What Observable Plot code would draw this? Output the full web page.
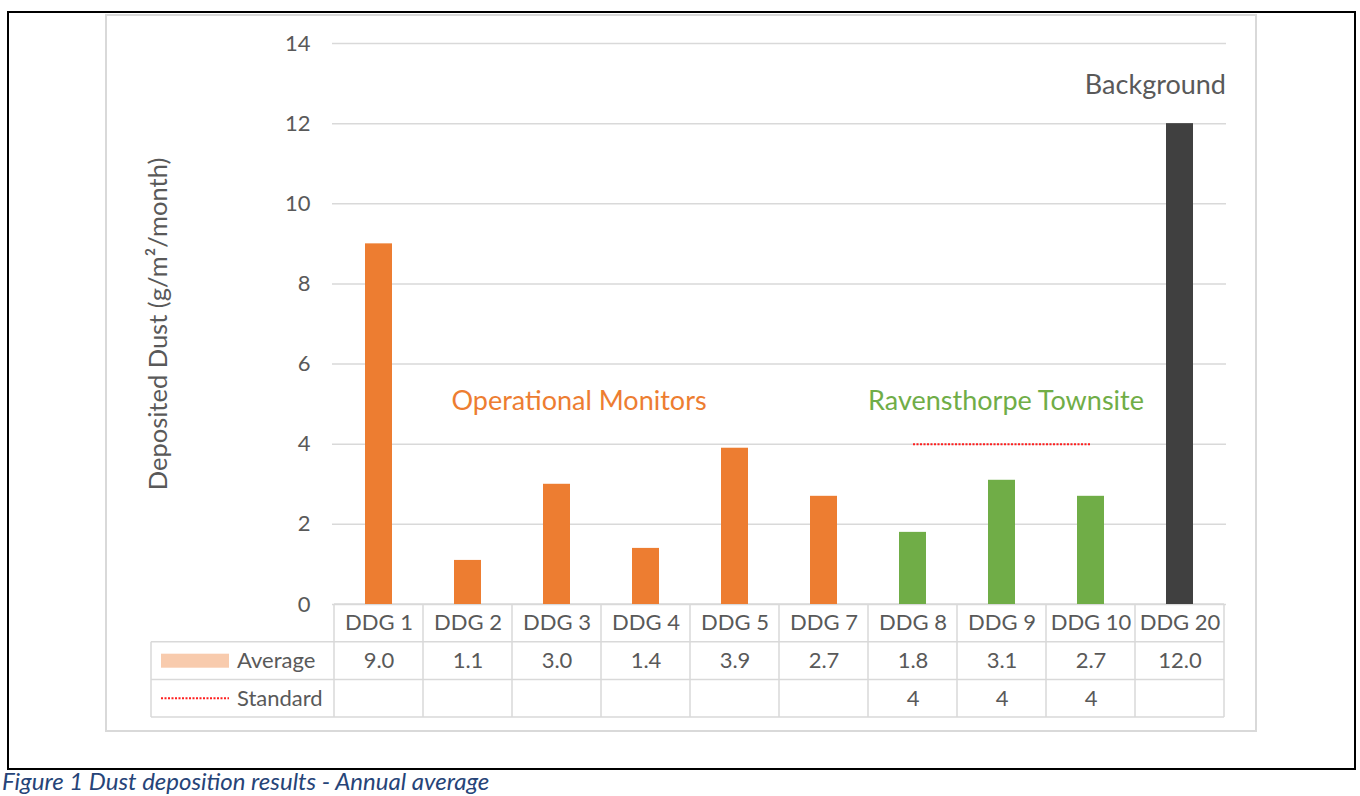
<!DOCTYPE html>
<html><head><meta charset="utf-8">
<script src="https://cdn.jsdelivr.net/npm/d3@7"></script>
<script src="https://cdn.jsdelivr.net/npm/@observablehq/plot@0.6"></script>
<style>
body{margin:0;background:#fff;font-family:Lato,sans-serif;width:1360px;height:796px;overflow:hidden;}
#chart svg{display:block;}
#caption{font-style:italic;color:#264478;font-size:24px;line-height:23px;padding-left:2px;white-space:nowrap;margin-top:-3px;}
</style></head><body>
<div id="chart"></div>
<div id="caption">Figure 1 Dust deposition results - Annual average</div>
<script>
const categories = ["DDG 1","DDG 2","DDG 3","DDG 4","DDG 5","DDG 7","DDG 8","DDG 9","DDG 10","DDG 20"];
const averages = [9.0, 1.1, 3.0, 1.4, 3.9, 2.7, 1.8, 3.1, 2.7, 12.0];
const groups = ["Operational","Operational","Operational","Operational","Operational","Operational","Townsite","Townsite","Townsite","Background"];
const standardSites = ["DDG 8","DDG 9","DDG 10"];
const standardValues = [4, 4, 4];
const yTicks = [0, 2, 4, 6, 8, 10, 12, 14];
const groupColors = {Operational: "#ED7D31", Townsite: "#70AD47", Background: "#404040"};

const data = categories.map((c, i) => ({site: c, avg: averages[i], group: groups[i]}));
const stdData = standardSites.map((s, i) => ({site: s, std: standardValues[i]}));

const textGray = "#595959";
const F = 22;

const plot = Plot.plot({
  width: 1360, height: 772,
  marginLeft: 332, marginRight: 134, marginTop: 43, marginBottom: 168,
  style: {fontFamily: "Lato, sans-serif", color: textGray, background: "transparent", overflow: "visible"},
  x: {type: "band", domain: categories, padding: 0, axis: null},
  y: {domain: [0, 14]},
  marks: [
    Plot.ruleY(yTicks, {stroke: "#D9D9D9", strokeWidth: 1.5}),
    Plot.axisY({ticks: yTicks, tickSize: 0, tickPadding: 22, fontSize: F, label: null}),
    Plot.barY(data, {x: "site", y: "avg", fill: d => groupColors[d.group], insetLeft: 31, insetRight: 31}),
    Plot.line(stdData, {x: "site", y: "std", stroke: "#FF1F1F", strokeWidth: 2, strokeLinecap: "butt", strokeDasharray: "2 1.5"}),
    Plot.text(data, {x: "site", y: () => 0, text: "site", dy: 18, fontSize: F, fill: textGray}),
    Plot.text(data, {x: "site", y: () => 0, text: d => d.avg.toFixed(1), dy: 56, fontSize: F, fill: textGray}),
    Plot.text(stdData, {x: "site", y: () => 0, text: d => String(d.std), dy: 94, fontSize: F, fill: textGray}),
    Plot.text(["Operational Monitors"], {x: () => "DDG 3", y: () => 5.07, dx: 22, text: d => d, fontSize: 27, fill: "#ED7D31"}),
    Plot.text(["Ravensthorpe Townsite"], {x: () => "DDG 9", y: () => 5.07, dx: 4, text: d => d, fontSize: 27, fill: "#70AD47"}),
    Plot.text(["Background"], {x: () => "DDG 20", y: () => 12.95, dx: 46, textAnchor: "end", text: d => d, fontSize: 27, fill: textGray}),
    Plot.text(["Deposited Dust (g/m²/month)"], {frameAnchor: "left", textAnchor: "middle", rotate: -90, dx: -174, text: d => d, fontSize: 25.5, fill: textGray})
  ]
});

const svg = d3.select(plot);
const xs = plot.scale("x");
const ys = plot.scale("y");
const y0 = ys.apply(0);
const step = xs.bandwidth;
const xStart = xs.apply(categories[0]);
const xEnd = xs.apply(categories[categories.length - 1]) + step;
const rowH = 37.7;
const r1 = y0 + rowH, r2 = y0 + 2 * rowH, r3 = y0 + 3 * rowH;
const legendLeft = 151;
const grid = "#D9D9D9";

const under = svg.insert("g", ":first-child");
// outer frame and chart area border
under.append("rect").attr("x", 8).attr("y", 12).attr("width", 1347).attr("height", 757)
  .attr("fill", "none").attr("stroke", "#000").attr("stroke-width", 2);
under.append("rect").attr("x", 106).attr("y", 15).attr("width", 1150).attr("height", 716)
  .attr("fill", "none").attr("stroke", grid).attr("stroke-width", 2);
// table
const tl = under.append("g").attr("stroke", grid).attr("stroke-width", 1.5);
[r1, r2, r3].forEach(yy => tl.append("line").attr("x1", legendLeft).attr("x2", xEnd).attr("y1", yy).attr("y2", yy));
tl.append("line").attr("x1", xStart).attr("x2", xEnd).attr("y1", y0).attr("y2", y0);
tl.append("line").attr("x1", legendLeft).attr("x2", legendLeft).attr("y1", r1).attr("y2", r3);
categories.concat([null]).forEach((c, i) => {
  const xx = c === null ? xEnd : xs.apply(c);
  tl.append("line").attr("x1", xx).attr("x2", xx).attr("y1", y0).attr("y2", r3);
});
// legend in table
const lg = svg.append("g");
lg.append("rect").attr("x", 161).attr("y", r1 + 12).attr("width", 68).attr("height", 14).attr("fill", "#F8CBAD");
lg.append("line").attr("x1", 161).attr("x2", 229).attr("y1", (r2 + r3) / 2).attr("y2", (r2 + r3) / 2)
  .attr("stroke", "#FF1F1F").attr("stroke-width", 2).attr("stroke-dasharray", "2 1.5");
[["Average", (r1 + r2) / 2], ["Standard", (r2 + r3) / 2]].forEach(([t, yy]) => {
  lg.append("text").attr("x", 237).attr("y", yy).attr("dy", "0.35em").attr("font-size", F)
    .attr("text-anchor", "start")
    .attr("fill", textGray).attr("font-family", "Lato, sans-serif").text(t);
});

document.getElementById("chart").appendChild(plot);
</script>
</body></html>
